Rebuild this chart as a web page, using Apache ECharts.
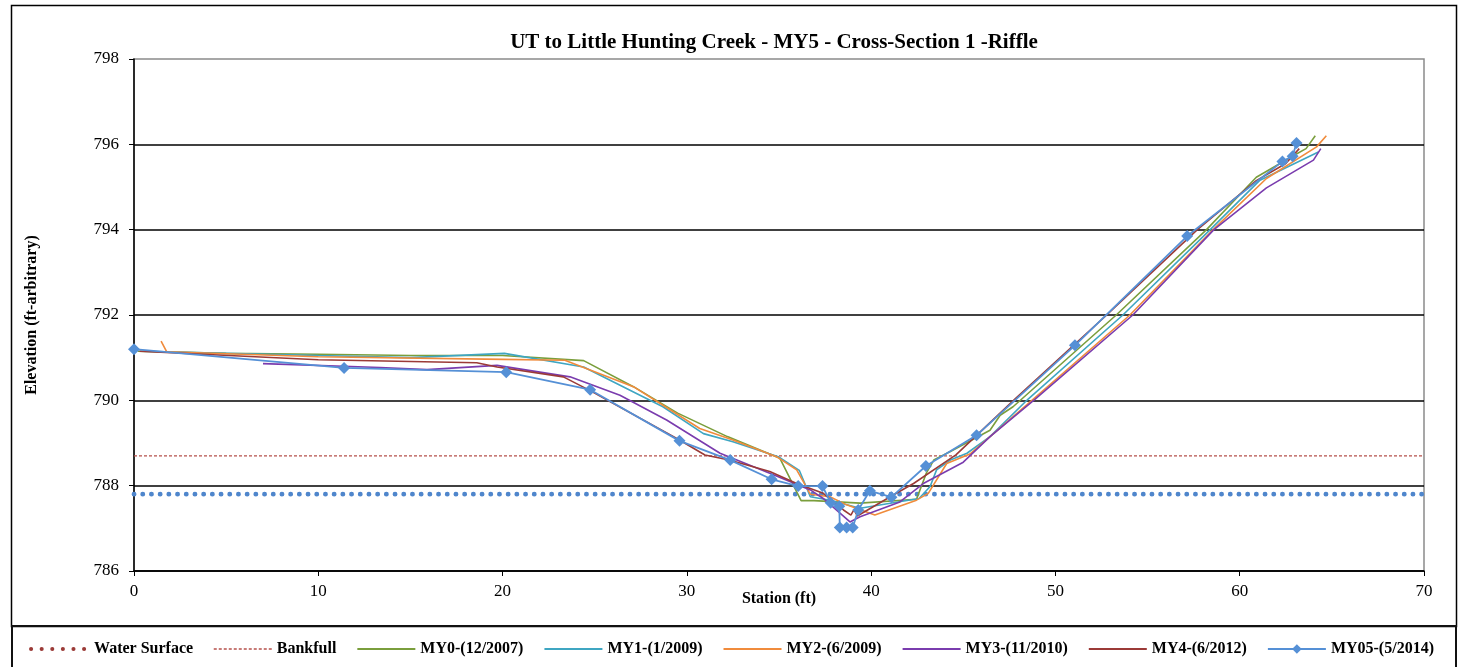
<!DOCTYPE html>
<html>
<head>
<meta charset="utf-8">
<script src="https://cdn.jsdelivr.net/npm/echarts@6/dist/echarts.min.js"></script>
<style>
  html, body { margin: 0; padding: 0; background: #fff; }
  #chart { width: 1463px; height: 667px; }
</style>
</head>
<body>
<div id="chart"></div>
<script>
// Cross-section survey: [station (ft), elevation (ft)]
const waterSurface = [[0, 787.8], [70, 787.8]];
const bankfull = [[0, 788.7], [70, 788.7]];

const my0 = [[0.2, 791.15], [5, 791.1], [10, 791.08], [15, 791.05], [20, 791.05], [24.4, 790.93],
  [27.1, 790.32], [29.5, 789.7], [32.2, 789.15], [35.05, 788.64], [36.2, 787.65], [36.9, 787.65],
  [39.4, 787.59], [42.46, 787.68], [43.0, 788.3], [43.4, 788.6], [44.3, 788.8], [46.45, 789.3],
  [47.0, 789.65], [47.7, 789.85], [53.3, 792.0], [58.2, 794.0], [60.9, 795.23], [63.1, 795.78],
  [63.6, 795.9], [64.1, 796.2]];

const my1 = [[0.5, 791.15], [10, 791.05], [15, 791.0], [20.1, 791.1], [24.4, 790.78], [28.7, 789.85],
  [30.9, 789.22], [32.5, 789.03], [34.96, 788.68], [36.1, 788.36], [36.7, 787.74], [37.76, 787.66],
  [39.4, 787.47], [42.6, 787.7], [43.2, 787.98], [43.55, 788.37], [44.3, 788.6], [45.2, 788.76],
  [46.45, 789.15], [48.52, 790.03], [53.66, 792.0], [58.4, 794.0], [61.1, 795.16], [64.27, 795.82]];

const my2 = [[1.47, 791.39], [1.77, 791.14], [10, 791.02], [20, 790.96], [23.38, 790.94], [27.1, 790.32],
  [30.7, 789.34], [32.5, 789.07], [34.87, 788.68], [35.96, 788.37], [36.7, 787.8], [37.76, 787.74],
  [38.67, 787.55], [40.2, 787.31], [42.46, 787.66], [43.1, 787.82], [44.1, 788.52], [45.36, 788.74],
  [48.8, 790.03], [54.04, 792.0], [58.56, 794.0], [61.45, 795.2], [64.17, 795.94], [64.7, 796.2]];

const my3 = [[7.0, 790.86], [13.35, 790.77], [15.9, 790.72], [19.7, 790.82], [23.66, 790.55],
  [26.37, 790.12], [28.9, 789.54], [31.8, 788.76], [34.5, 788.29], [36.7, 787.9], [37.4, 787.7],
  [38.85, 787.15], [39.4, 787.27], [41.56, 787.62], [42.83, 788.05], [45.0, 788.55], [46.45, 789.15],
  [48.9, 790.03], [54.2, 792.0], [58.6, 794.0], [61.45, 794.98], [64.0, 795.63], [64.4, 795.9]];

const my4 = [[0.3, 791.15], [10, 790.95], [18.6, 790.88], [19.7, 790.78], [23.3, 790.55], [24.7, 790.24],
  [29.6, 789.07], [30.98, 788.72], [32.3, 788.6], [34.5, 788.33], [35.96, 788.05], [37.4, 787.82],
  [38.5, 787.43], [38.9, 787.31], [39.07, 787.44], [39.25, 787.29], [41.2, 787.78], [42.3, 788.05],
  [44.6, 788.72], [45.72, 789.18], [47.8, 790.03], [52.78, 792.0], [57.7, 794.0], [60.9, 795.15],
  [62.5, 795.55], [63.23, 795.9]];

const my05 = [[0, 791.2], [11.4, 790.76], [20.2, 790.66], [24.75, 790.25], [29.6, 789.05], [32.35, 788.6],
  [34.6, 788.15], [36.04, 787.99], [37.36, 787.99], [37.8, 787.6], [38.27, 787.52], [38.3, 787.02],
  [38.67, 787.02], [39.0, 787.02], [39.3, 787.43], [39.93, 787.88], [41.1, 787.73], [42.97, 788.46],
  [45.72, 789.18], [51.06, 791.29], [57.15, 793.85], [62.32, 795.6], [62.87, 795.72], [63.08, 796.03]];

const FONT = '"Liberation Serif", "Times New Roman", serif';

const surveys = [
  { name: 'MY0-(12/2007)', data: my0, color: '#7a9e3c' },
  { name: 'MY1-(1/2009)', data: my1, color: '#3fa6c2' },
  { name: 'MY2-(6/2009)', data: my2, color: '#f08b3c' },
  { name: 'MY3-(11/2010)', data: my3, color: '#7a3cae' },
  { name: 'MY4-(6/2012)', data: my4, color: '#9b3a37' },
];

const chart = echarts.init(document.getElementById('chart'));

const series = [
  {
    name: 'Water Surface', type: 'line', data: waterSurface, symbol: 'none', z: 1,
    itemStyle: { color: '#9b3a37' },
    lineStyle: { color: '#4f86cc', width: 4.8, type: [0.1, 8.6], cap: 'round' },
  },
  {
    name: 'Bankfull', type: 'line', data: bankfull, symbol: 'none', z: 1,
    itemStyle: { color: '#b5504b' },
    lineStyle: { color: '#b5504b', width: 1.3, type: [3, 2] },
  },
  ...surveys.map(s => ({
    name: s.name, type: 'line', data: s.data, symbol: 'none', z: 2,
    itemStyle: { color: s.color },
    lineStyle: { color: s.color, width: 1.6 },
  })),
  {
    name: 'MY05-(5/2014)', type: 'line', data: my05, z: 3,
    symbol: 'diamond', symbolSize: 12, showSymbol: true,
    itemStyle: { color: '#5590d6' },
    lineStyle: { color: '#5590d6', width: 1.8 },
  },
];

// legend entries without markers: hide the symbol, keep the line
const noMark = { opacity: 0 };

chart.setOption({
  animation: false,
  backgroundColor: '#fff',
  textStyle: { fontFamily: FONT, color: '#000' },
  title: {
    text: 'UT to Little Hunting Creek - MY5 - Cross-Section 1 -Riffle',
    left: 769, top: 27, textAlign: 'center',
    textStyle: { fontFamily: FONT, fontSize: 21, fontWeight: 'bold', color: '#000' },
  },
  grid: {
    left: 134, right: 39, top: 59, bottom: 96,
    show: true, borderColor: '#8a8a8a', borderWidth: 1.5,
  },
  xAxis: {
    type: 'value', min: 0, max: 70, interval: 10,
    name: 'Station (ft)', nameLocation: 'middle', nameGap: 20, nameMoveOverlap: false,
    nameTextStyle: { fontFamily: FONT, fontSize: 16, fontWeight: 'bold', color: '#000' },
    axisLine: { show: true, onZero: false, lineStyle: { color: '#000', width: 1.5 } },
    axisTick: { show: true, length: 5, lineStyle: { color: '#000' } },
    axisLabel: { fontFamily: FONT, fontSize: 17, color: '#000', margin: 12 },
    splitLine: { show: false },
  },
  yAxis: {
    type: 'value', min: 786, max: 798, interval: 2,
    name: 'Elevation (ft-arbitrary)', nameLocation: 'middle', nameGap: 94, nameRotate: 90,
    nameTextStyle: { fontFamily: FONT, fontSize: 16, fontWeight: 'bold', color: '#000' },
    axisLine: { show: true, onZero: false, lineStyle: { color: '#000', width: 1.5 } },
    axisTick: { show: true, length: 5, lineStyle: { color: '#000' } },
    axisLabel: { fontFamily: FONT, fontSize: 17, color: '#000', margin: 15 },
    splitLine: { show: true, showMaxLine: false, lineStyle: { color: '#000', width: 1.5 } },
  },
  legend: {
    bottom: 5, left: 'center', itemWidth: 58, itemHeight: 12, itemGap: 20,
    textStyle: { fontFamily: FONT, fontSize: 16, fontWeight: 'bold', color: '#000' },
    data: [
      { name: 'Water Surface', itemStyle: noMark,
        lineStyle: { color: '#9b3a37', width: 4, type: [0.1, 10.5], cap: 'round' } },
      { name: 'Bankfull', itemStyle: noMark, lineStyle: { color: '#b5504b', width: 1.3, type: [3, 2] } },
      ...surveys.map(s => ({ name: s.name, itemStyle: noMark })),
      { name: 'MY05-(5/2014)', itemStyle: { opacity: 1 } },
    ],
  },
  graphic: [
    { type: 'rect', shape: { x: 11.5, y: 5.5, width: 1445, height: 621 }, z: 100,
      style: { fill: 'none', stroke: '#000', lineWidth: 1.5 } },
    { type: 'rect', shape: { x: 12, y: 626, width: 1444, height: 44 }, z: 100,
      style: { fill: 'none', stroke: '#111', lineWidth: 2 } },
  ],
  series,
});
</script>
</body>
</html>
